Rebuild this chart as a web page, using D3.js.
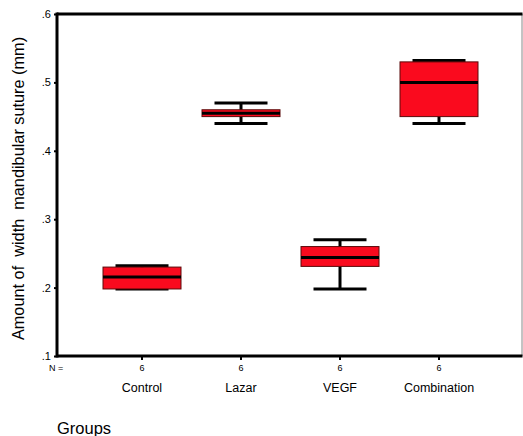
<!DOCTYPE html>
<html>
<head>
<meta charset="utf-8">
<script src="https://cdn.jsdelivr.net/npm/d3@7"></script>
<style>
  body { margin: 0; background: #fff; }
  text { font-family: Arial, "Liberation Sans", sans-serif; fill: #000; }
</style>
</head>
<body>
<div id="chart"></div>
<script>
// groups and box statistics
var groups = ["Control", "Lazar", "VEGF", "Combination"];
var counts = [6, 6, 6, 6];
var whiskerLow  = [0.198, 0.440, 0.198, 0.440];
var boxLow      = [0.198, 0.450, 0.231, 0.450];
var medians     = [0.2155, 0.455, 0.244, 0.500];
var boxHigh     = [0.230, 0.460, 0.260, 0.530];
var whiskerHigh = [0.232, 0.470, 0.270, 0.532];
var yTicks = [0.1, 0.2, 0.3, 0.4, 0.5, 0.6];

var width = 523, height = 436;
var plotLeft = 57, plotRight = 522, plotTop = 14, plotBottom = 356;

var svg = d3.select("#chart").append("svg")
	.attr("width", width)
	.attr("height", height);

var y = d3.scaleLinear().domain([0.1, 0.6]).range([plotBottom, plotTop]);
var x = d3.scalePoint().domain(groups).range([142, 439]);

var boxW = 78, capW = 53;

// frame: thin grey right edge, thick black top/left/bottom
svg.append("line")
	.attr("x1", plotRight).attr("x2", plotRight).attr("y1", plotTop).attr("y2", plotBottom)
	.attr("stroke", "#888").attr("stroke-width", 1);
svg.append("line")
	.attr("x1", plotLeft).attr("x2", plotRight + 0.5).attr("y1", plotTop).attr("y2", plotTop)
	.attr("stroke", "#000").attr("stroke-width", 3);
svg.append("line")
	.attr("x1", plotLeft).attr("x2", plotRight + 0.5).attr("y1", plotBottom).attr("y2", plotBottom)
	.attr("stroke", "#000").attr("stroke-width", 3);

// y axis
var yAxis = d3.axisLeft(y)
	.tickValues(yTicks)
	.tickSize(3)
	.tickPadding(3)
	.tickFormat(function(d) { return d3.format(".1f")(d).replace(/^0/, ""); });
var gy = svg.append("g")
	.attr("transform", "translate(" + plotLeft + ",0)")
	.call(yAxis);
gy.select(".domain").attr("stroke-width", 3).attr("d", "M0," + (plotTop - 1.5) + "V" + (plotBottom + 1.5));
gy.selectAll(".tick line").attr("stroke-width", 2);
gy.selectAll(".tick text").style("font-size", "11px").style("font-family", "Arial, 'Liberation Sans', sans-serif");

// x ticks (below the frame)
svg.selectAll(".xtick").data(groups).enter().append("line")
	.attr("x1", function(d) { return x(d); })
	.attr("x2", function(d) { return x(d); })
	.attr("y1", plotBottom).attr("y2", plotBottom + 4)
	.attr("stroke", "#000").attr("stroke-width", 2);

// N counts
svg.append("text")
	.attr("x", 49).attr("y", 371)
	.style("font-size", "9px")
	.text("N =");
svg.selectAll(".ncount").data(groups).enter().append("text")
	.attr("x", function(d) { return x(d); })
	.attr("y", 371)
	.attr("text-anchor", "middle")
	.style("font-size", "9px")
	.text(function(d, i) { return counts[i]; });

// category labels
svg.selectAll(".cat").data(groups).enter().append("text")
	.attr("x", function(d) { return x(d); })
	.attr("y", 392)
	.attr("text-anchor", "middle")
	.style("font-size", "12.5px")
	.text(function(d) { return d; });

// axis titles
svg.append("text")
	.attr("x", 57).attr("y", 434)
	.style("font-size", "16.5px")
	.text("Groups");
svg.append("text")
	.attr("transform", "translate(24,188.5) rotate(-90)")
	.attr("text-anchor", "middle")
	.style("font-size", "16.3px")
	.attr("xml:space", "preserve")
	.text("Amount of  width  mandibular suture (mm)");

// boxes
var box = svg.selectAll(".box").data(groups).enter().append("g");

box.append("line")
	.attr("x1", function(d) { return x(d); })
	.attr("x2", function(d) { return x(d); })
	.attr("y1", function(d, i) { return y(whiskerLow[i]); })
	.attr("y2", function(d, i) { return y(whiskerHigh[i]); })
	.attr("stroke", "#000").attr("stroke-width", 3);

box.selectAll(".cap")
	.data(function(d, i) { return [whiskerLow[i], whiskerHigh[i]].map(function(v) { return {g: d, v: v}; }); })
	.enter().append("line")
	.attr("x1", function(d) { return x(d.g) - capW / 2; })
	.attr("x2", function(d) { return x(d.g) + capW / 2; })
	.attr("y1", function(d) { return y(d.v); })
	.attr("y2", function(d) { return y(d.v); })
	.attr("stroke", "#000").attr("stroke-width", 3);

box.append("rect")
	.attr("x", function(d) { return x(d) - boxW / 2; })
	.attr("y", function(d, i) { return y(boxHigh[i]); })
	.attr("width", boxW)
	.attr("height", function(d, i) { return y(boxLow[i]) - y(boxHigh[i]); })
	.attr("fill", "#fa0a1e")
	.attr("stroke", "#5a0a0a")
	.attr("stroke-width", 1);

box.append("line")
	.attr("x1", function(d) { return x(d) - boxW / 2; })
	.attr("x2", function(d) { return x(d) + boxW / 2; })
	.attr("y1", function(d, i) { return y(medians[i]); })
	.attr("y2", function(d, i) { return y(medians[i]); })
	.attr("stroke", "#000").attr("stroke-width", 3);
</script>
</body>
</html>
